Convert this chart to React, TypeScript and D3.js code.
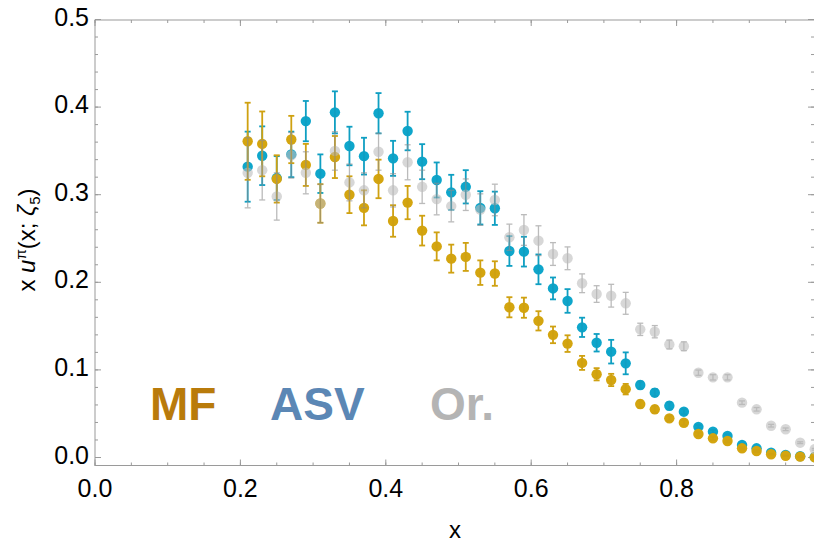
import React from 'react';
import * as d3 from 'd3';

const xs = [0.21, 0.23, 0.25, 0.27, 0.29, 0.31, 0.33, 0.35, 0.37, 0.39,
  0.41, 0.43, 0.45, 0.47, 0.49, 0.51, 0.53, 0.55, 0.57, 0.59,
  0.61, 0.63, 0.65, 0.67, 0.69, 0.71, 0.73, 0.75, 0.77, 0.79,
  0.81, 0.83, 0.85, 0.87, 0.89, 0.91, 0.93, 0.95, 0.97, 0.99];

const mfVal = [0.361, 0.358, 0.318, 0.363, 0.334, 0.290, 0.343, 0.300, 0.285, 0.318,
  0.270, 0.291, 0.259, 0.241, 0.227, 0.229, 0.211, 0.210, 0.1715, 0.171,
  0.156, 0.140, 0.130, 0.108, 0.095, 0.0885, 0.078, 0.061, 0.055, 0.0447,
  0.0397, 0.0268, 0.0219, 0.0188, 0.0105, 0.0074, 0.0037, 0.002, 0.001, 0.0002];
const mfErr = [0.044, 0.037, 0.027, 0.027, 0.024, 0.022, 0.024, 0.021, 0.020, 0.022,
  0.018, 0.019, 0.017, 0.016, 0.016, 0.016, 0.014, 0.014, 0.0115, 0.0115,
  0.011, 0.0095, 0.0095, 0.008, 0.007, 0.007, 0.006, 0.004, 0.004, 0.003,
  0.003, 0.002, 0.002, 0.0015, 0.001, 0.001, 0.0005, 0.0003, 0.0002, 0.0001];

const asvVal = [0.332, 0.3445, 0.319, 0.346, 0.384, 0.324, 0.394, 0.3556, 0.344, 0.393,
  0.3415, 0.3727, 0.3377, 0.3168, 0.3027, 0.309, 0.285, 0.2845, 0.2357, 0.235,
  0.2148, 0.193, 0.1787, 0.1486, 0.131, 0.1208, 0.1075, 0.0828, 0.074, 0.059,
  0.0523, 0.035, 0.0295, 0.0245, 0.0143, 0.0105, 0.0055, 0.003, 0.0015, 0.0005];
const asvErr = [0.040, 0.0335, 0.025, 0.026, 0.023, 0.022, 0.024, 0.022, 0.021, 0.023,
  0.020, 0.022, 0.020, 0.020, 0.020, 0.019, 0.019, 0.019, 0.017, 0.017,
  0.017, 0.0125, 0.0135, 0.011, 0.010, 0.0135, 0.0125, 0.004, 0.004, 0.004,
  0.003, 0.002, 0.002, 0.002, 0.001, 0.001, 0.0005, 0.0003, 0.0002, 0.0001];

const orVal = [0.325, 0.328, 0.298, 0.345, 0.325, 0.290, 0.350, 0.314, 0.305, 0.349,
  0.305, 0.337, 0.309, 0.295, 0.287, 0.300, 0.283, 0.294, 0.2514, 0.2597,
  0.2475, 0.2323, 0.2274, 0.1989, 0.1866, 0.1847, 0.176, 0.1463, 0.1436, 0.129,
  0.127, 0.0968, 0.0915, 0.0915, 0.0626, 0.055, 0.0363, 0.0322, 0.0169, 0.0094];
const orErr = [0.040, 0.034, 0.027, 0.026, 0.024, 0.022, 0.022, 0.021, 0.020, 0.021,
  0.019, 0.020, 0.019, 0.018, 0.018, 0.018, 0.018, 0.018, 0.015, 0.0175,
  0.017, 0.013, 0.013, 0.0107, 0.0095, 0.013, 0.0125, 0.007, 0.007, 0.005,
  0.005, 0.003, 0.003, 0.003, 0.002, 0.002, 0.0015, 0.0015, 0.001, 0.001];

const legendNames = ['MF', 'ASV', 'Or.'];
const xTickLabels = ['0.0', '0.2', '0.4', '0.6', '0.8'];
const yTickLabels = ['0.0', '0.1', '0.2', '0.3', '0.4', '0.5'];

const W = 814, H = 542;
const left = 95, right = 815, top = 20, bottom = 465.5;

const x = d3.scaleLinear().domain([0, 1]).range([95, 822]);
const y = d3.scaleLinear().domain([0, 0.5]).range([457.5, 19.5]);

const font = '"Liberation Sans", Arial, sans-serif';
const frameColor = '#9a9a9a';

type Series = { vals: number[]; errs: number[]; fill: string; bar: string; opacity: number; barWidth: number };

// drawing order: ASV below, MF above it, Or. translucent on top
const series: Series[] = [
  { vals: asvVal, errs: asvErr, fill: '#0ea6cb', bar: '#0f9fc2', opacity: 1, barWidth: 1.8 },
  { vals: mfVal, errs: mfErr, fill: '#d4a50f', bar: '#cfa111', opacity: 1, barWidth: 1.8 },
  { vals: orVal, errs: orErr, fill: '#bdbdbd', bar: '#8f8f8f', opacity: 0.6, barWidth: 1.3 },
];

const Points = ({ s }: { s: Series }) => {
  const cap = 3;
  return (
    <g opacity={s.opacity}>
      {xs.map((xv, i) => {
        const cx = x(xv);
        const y1 = y(s.vals[i] + s.errs[i]);
        const y2 = y(s.vals[i] - s.errs[i]);
        return (
          <g key={i}>
            <circle cx={cx} cy={y(s.vals[i])} r={5.2} fill={s.fill} />
            <line x1={cx} x2={cx} y1={y1} y2={y2} stroke={s.bar} strokeWidth={s.barWidth} />
            <line x1={cx - cap} x2={cx + cap} y1={y1} y2={y1} stroke={s.bar} strokeWidth={s.barWidth} />
            <line x1={cx - cap} x2={cx + cap} y1={y2} y2={y2} stroke={s.bar} strokeWidth={s.barWidth} />
          </g>
        );
      })}
    </g>
  );
};

export default function App() {
  const xMajor = d3.range(0, 5).map(i => i * 0.2);
  const xMinor = d3.range(0, 20).map(i => i * 0.05).filter(v => x(v) <= right);
  const yMajor = d3.range(0, 6).map(i => i * 0.1);
  const yMinor = d3.range(0, 26).map(i => i * 0.02);
  const legendColors = ['#b97b0b', '#5b87b5', '#b4b4b4'];
  const legendX = [150, 270, 430];

  return (
    <svg width={W} height={H} style={{ position: 'absolute', left: 0, top: 0, background: '#fff' }}>
      <rect width={W} height={H} fill="#fff" />
      {/* frame */}
      <rect x={left} y={top} width={right - left} height={bottom - top} fill="none" stroke={frameColor} strokeWidth={1} />
      {xMinor.map((v, i) => (
        <g key={'xm' + i}>
          <line x1={x(v)} x2={x(v)} y1={bottom} y2={bottom - 3} stroke={frameColor} />
          <line x1={x(v)} x2={x(v)} y1={top} y2={top + 3} stroke={frameColor} />
        </g>
      ))}
      {xMajor.map((v, i) => (
        <g key={'xM' + i}>
          <line x1={x(v)} x2={x(v)} y1={bottom} y2={bottom - 6} stroke={frameColor} />
          <line x1={x(v)} x2={x(v)} y1={top} y2={top + 6} stroke={frameColor} />
          <text x={x(v)} y={497} fontSize={25} fontFamily={font} textAnchor="middle" fill="#000">{xTickLabels[i]}</text>
        </g>
      ))}
      {yMinor.map((v, i) => (
        <g key={'ym' + i}>
          <line x1={left} x2={left + 3} y1={y(v)} y2={y(v)} stroke={frameColor} />
          <line x1={right} x2={right - 4} y1={y(v)} y2={y(v)} stroke={frameColor} />
        </g>
      ))}
      {yMajor.map((v, i) => (
        <g key={'yM' + i}>
          <line x1={left} x2={left + 6} y1={y(v)} y2={y(v)} stroke={frameColor} />
          <line x1={right} x2={right - 7} y1={y(v)} y2={y(v)} stroke={frameColor} />
          <text x={89} y={y(v) + 6} fontSize={25} fontFamily={font} textAnchor="end" fill="#000">{yTickLabels[i]}</text>
        </g>
      ))}

      {series.map((s, i) => <Points key={i} s={s} />)}

      {/* legend labels */}
      {legendNames.map((n, i) => (
        <text key={n} x={legendX[i]} y={420} fontSize={46} fontWeight="bold" fontFamily={font} fill={legendColors[i]}>{n}</text>
      ))}

      {/* axis titles */}
      <text x={455} y={538} fontSize={24} fontFamily={font} textAnchor="middle">x</text>
      <text transform="translate(35,240) rotate(-90)" fontSize={24} fontFamily={font} textAnchor="middle">
        <tspan>x </tspan>
        <tspan fontStyle="italic">u</tspan>
        <tspan fontSize={15} dy={-9}>π</tspan>
        <tspan dy={9}>(x; </tspan>
        <tspan fontStyle="italic">ζ</tspan>
        <tspan fontSize={15} dy={5}>5</tspan>
        <tspan dy={-5}>)</tspan>
      </text>
    </svg>
  );
}
